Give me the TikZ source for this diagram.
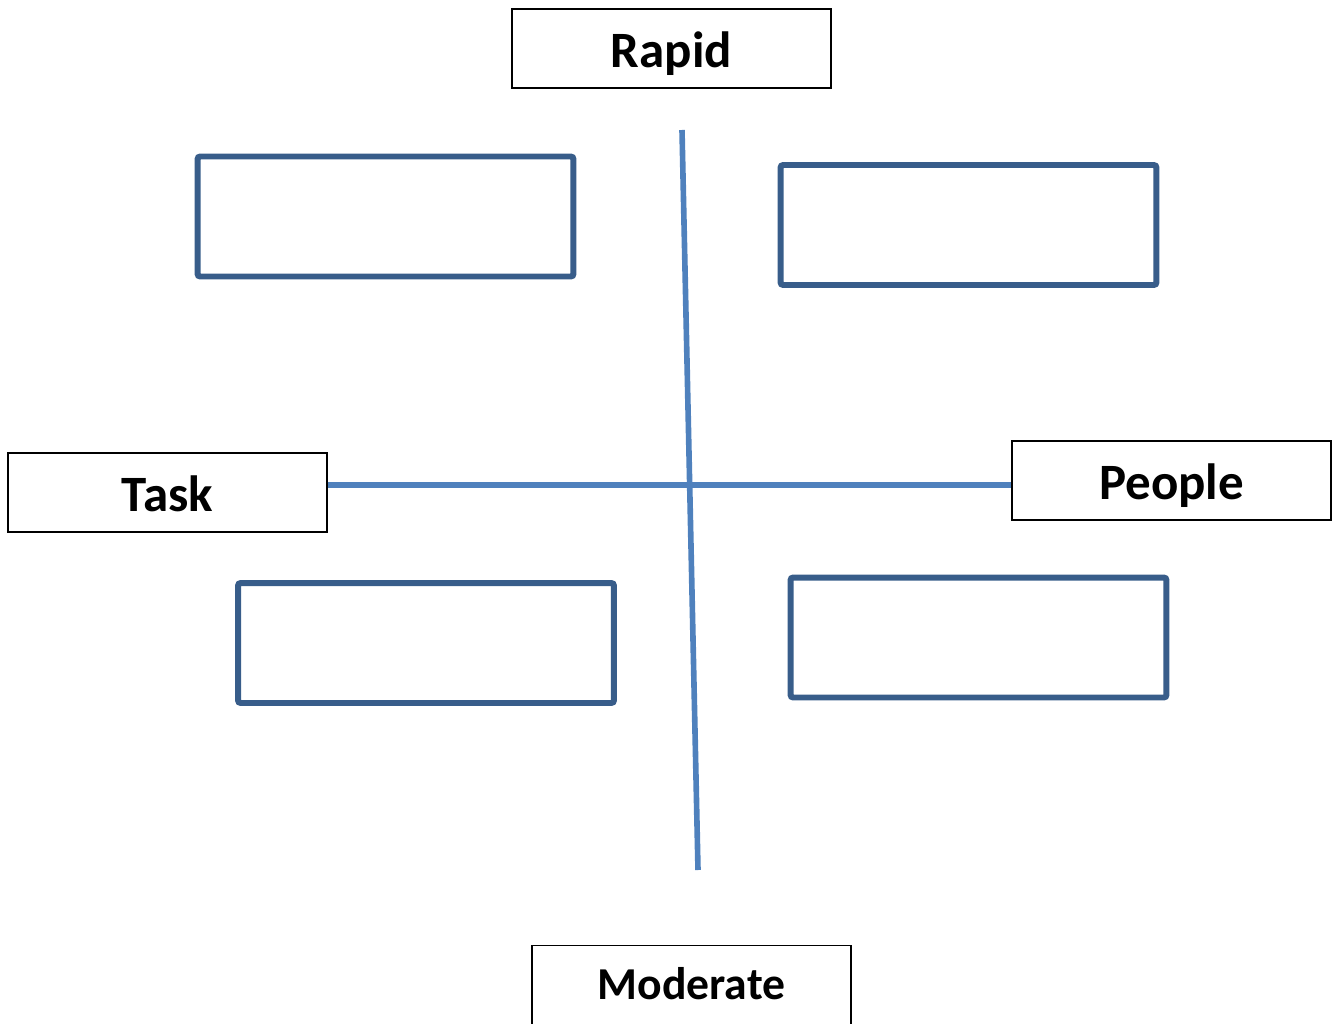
\documentclass[tikz,border=0pt]{standalone}
\usepackage{fontspec}
\setmainfont{Carlito}
\usepackage{tikz}
\usetikzlibrary{positioning, calc}
\definecolor{AxisBlue}{HTML}{4F81BD}
\definecolor{FrameBlue}{HTML}{385D8A}
\begin{document}
\begin{tikzpicture}[
    x=0.02cm, y=-0.02cm,
    pole/.style={rectangle, draw=black, line width=0.8pt, minimum width=6.38cm,
                 inner ysep=0pt, text height=1.18cm, text depth=0.4cm, text centered,
                 font=\fontsize{29}{34}\selectfont\bfseries},
    slot/.style={rectangle, draw=FrameBlue, line width=3.4pt, rounded corners=1.5pt,
                 minimum width=7.52cm, minimum height=2.4cm},
    axisline/.style={draw=AxisBlue, line width=3.2pt}
]
    \useasboundingbox (0,0) rectangle (1333,1024);
    \clip (0,0) rectangle (1333,1024);
    % poles of the two axes
    \node[pole] (rapid) at (671.5,48.5) {Rapid};
    \node[pole] (task) at (167.5,492.5) {Task};
    \node[pole] (people) at (1171.5,480.5) {People};
    \node[pole, anchor=north, text height=1.08cm, text depth=1.6cm,
          font=\fontsize{26}{30}\selectfont\bfseries] (moderate) at (691.5,945) {Moderate};
    % empty quadrant boxes
    \node[slot] (qtl) at (385.5,216.5) {};
    \node[slot] (qtr) at (968.5,225) {};
    \node[slot] (qbl) at (426,643) {};
    \node[slot] (qbr) at (978.5,637.5) {};
    % axes
    \coordinate (vtop) at (682,130);
    \coordinate (vbot) at (698,870);
    \coordinate (hmid) at (690,485);
    \draw[axisline] (vtop) -- (vbot);
    \draw[axisline] (task.east |- hmid) -- (people.west |- hmid);
\end{tikzpicture}
\end{document}
